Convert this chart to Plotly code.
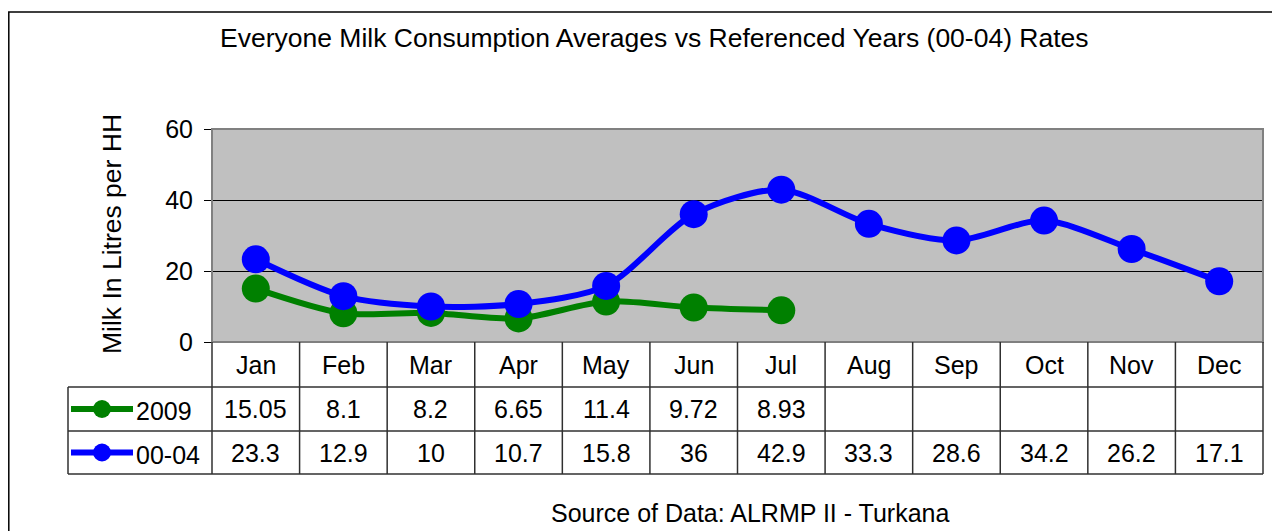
import plotly.graph_objects as go

months = ["Jan", "Feb", "Mar", "Apr", "May", "Jun", "Jul", "Aug", "Sep", "Oct", "Nov", "Dec"]
s2009 = [15.05, 8.1, 8.2, 6.65, 11.4, 9.72, 8.93, None, None, None, None, None]
s0004 = [23.3, 12.9, 10, 10.7, 15.8, 36, 42.9, 33.3, 28.6, 34.2, 26.2, 17.1]
series_names = ["2009", "00-04"]
series_colors = ["#008000", "#0000FF"]
yticks = [0, 20, 40, 60]

W, H = 1280, 531
OFF = 8  # page body margin
FONT = "Liberation Sans, Arial, sans-serif"
FS = 25

def px(x):
    return (x - OFF) / W

def py(y):
    return 1 - (y - OFF) / H

PL, PR, PT, PB = 212, 1263, 129, 342  # plot area pixels
ROWS = [342, 387, 431, 474]
TL = 68

fig = go.Figure()
for name, vals, col in zip(series_names, [s2009, s0004], series_colors):
    fig.add_trace(go.Scatter(
        x=list(range(len(months))), y=vals, name=name, mode="lines+markers",
        line=dict(color=col, width=6, shape="spline", smoothing=0.8),
        marker=dict(color=col, size=28),
        connectgaps=False, showlegend=False, cliponaxis=False,
    ))

shapes = []
annotations = []
# plot area border
shapes.append(dict(type="rect", xref="paper", yref="paper", x0=px(PL), x1=px(PR), y0=py(PB), y1=py(PT),
                   line=dict(color="#808080", width=2), layer="above"))
# outer chart border
shapes.append(dict(type="rect", xref="paper", yref="paper", x0=px(8.8), x1=px(1300), y0=py(560), y1=py(12),
                   line=dict(color="#000000", width=1.5)))
# table horizontal lines
for y in ROWS[1:]:
    shapes.append(dict(type="line", xref="paper", yref="paper", x0=px(TL), x1=px(PR), y0=py(y), y1=py(y),
                       line=dict(color="#303030", width=1.5)))
# table vertical lines
ncat = len(months)
cw = (PR - PL) / ncat
for i in range(ncat + 1):
    xv = PL + i * cw
    shapes.append(dict(type="line", xref="paper", yref="paper", x0=px(xv), x1=px(xv), y0=py(ROWS[0]), y1=py(ROWS[3]),
                       line=dict(color="#303030", width=1.5)))
shapes.append(dict(type="line", xref="paper", yref="paper", x0=px(TL), x1=px(TL), y0=py(ROWS[1]), y1=py(ROWS[3]),
                   line=dict(color="#303030", width=1.5)))

def txt(x, y, text, xref="paper", size=FS, angle=0):
    annotations.append(dict(x=x, xref=xref, y=y, yref="paper", text=text, showarrow=False,
                            xanchor="center", yanchor="middle", textangle=angle,
                            font=dict(size=size, color="black", family=FONT)))

# header row
for i, m in enumerate(months):
    txt(i, py((ROWS[0] + ROWS[1]) / 2), m, xref="x")
# data rows + legend keys
for r, (name, vals, col) in enumerate(zip(series_names, [s2009, s0004], series_colors)):
    yc = (ROWS[r + 1] + ROWS[r + 2]) / 2
    for i, v in enumerate(vals):
        if v is None:
            continue
        txt(i, py(yc), f"{v:g}", xref="x")
    shapes.append(dict(type="line", xref="paper", yref="paper", x0=px(71), x1=px(133), y0=py(yc), y1=py(yc),
                       line=dict(color=col, width=6)))
    shapes.append(dict(type="circle", xref="paper", yref="paper", x0=px(93), x1=px(111), y0=py(yc + 9), y1=py(yc - 9),
                       fillcolor=col, line=dict(color=col, width=0)))
    annotations.append(dict(x=px(134), xref="paper", y=py(yc + 2), yref="paper", text=name, xanchor="left",
                            yanchor="middle", showarrow=False, font=dict(size=FS, color="black", family=FONT)))

# title, axis title, source
txt(px(654), py(38), "Everyone Milk Consumption Averages vs Referenced Years (00-04) Rates", size=26.5)
txt(px(112), py(234), "Milk In Litres per HH", size=26.5, angle=-90)
txt(px(750), py(513), "Source of Data: ALRMP II - Turkana")

fig.update_layout(
    width=W, height=H, autosize=False,
    margin=dict(l=0, r=0, t=0, b=0, pad=0, autoexpand=False),
    paper_bgcolor="white", plot_bgcolor="#C0C0C0",
    shapes=shapes, annotations=annotations,
    xaxis=dict(domain=[px(PL), px(PR)], range=[-0.5, ncat - 0.5], showticklabels=False, showgrid=False,
               zeroline=False, ticks="", fixedrange=True, automargin=False),
    yaxis=dict(domain=[py(PB), py(PT)], range=[0, 60], tickvals=yticks, showgrid=True, gridcolor="black",
               gridwidth=1, zeroline=False, ticks="outside", ticklen=7, tickcolor="black", ticklabelstandoff=6,
               tickfont=dict(size=FS, color="black", family=FONT), showline=True, linecolor="#808080",
               fixedrange=True, automargin=False),
    font=dict(family=FONT),
)
fig.write_html("out.html")
